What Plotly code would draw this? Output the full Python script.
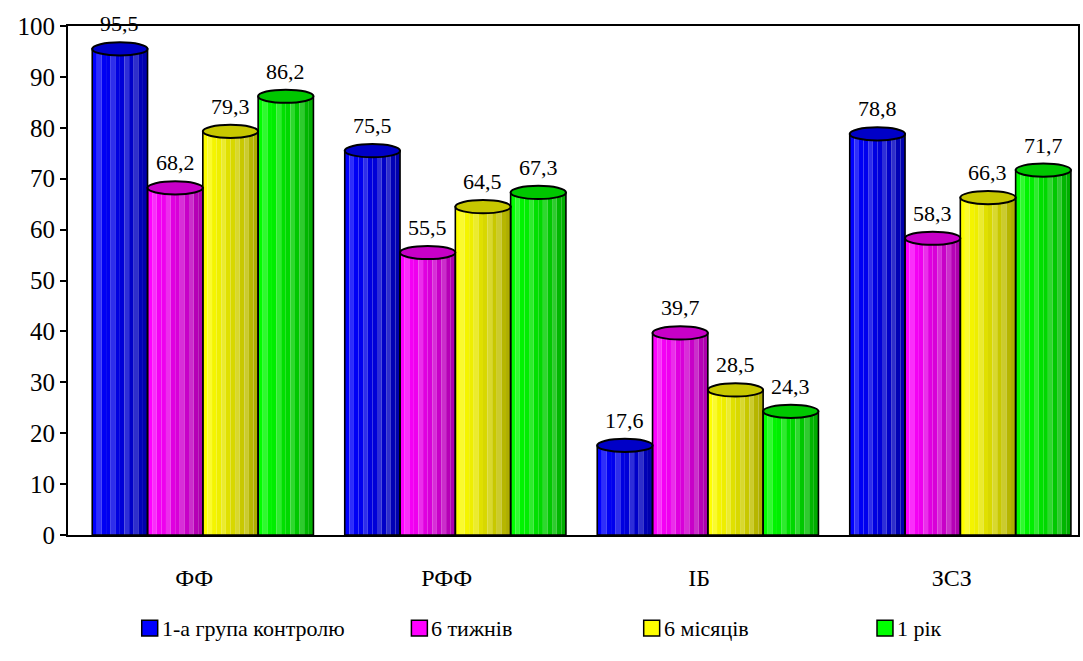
import plotly.graph_objects as go

# Indicator categories and group values (%)
categories = ["ФФ", "РФФ", "ІБ", "ЗСЗ"]
series_names = ["1-а група контролю", "6 тижнів", "6 місяців", "1 рік"]
control_vals = [95.5, 75.5, 17.6, 78.8]
weeks6_vals = [68.2, 55.5, 39.7, 58.3]
months6_vals = [79.3, 64.5, 28.5, 66.3]
year1_vals = [86.2, 67.3, 24.3, 71.7]
y_ticks = [0, 10, 20, 30, 40, 50, 60, 70, 80, 90, 100]

series_vals = [control_vals, weeks6_vals, months6_vals, year1_vals]
base_rgb = [(0, 0, 255), (255, 0, 255), (255, 255, 0), (0, 255, 0)]

FONT = "Liberation Serif, Tinos, serif"
BAR_W = 0.219          # width of one cylinder, in category units
GROUP_START = -0.404   # left edge of the first cylinder relative to category
N_SLICES = 12          # vertical slices used to shade each cylinder
ELL_H = 1.3            # half height of the cap ellipse, in value units


def shade(rgb, f):
    return "rgb({},{},{})".format(*[int(round(c * f)) for c in rgb])


def lighten(rgb, f, a):
    r = [c * f for c in rgb]
    return "rgb({},{},{})".format(*[int(round(c + (255 - c) * a)) for c in r])


# flatten the series so each slice is one trace covering every cylinder
xs, ys, lefts, rgbs = [], [], [], []
for k, vals in enumerate(series_vals):
    for cat, v in zip(categories, vals):
        xs.append(cat)
        ys.append(v)
        lefts.append(GROUP_START + k * BAR_W)
        rgbs.append(base_rgb[k])

fig = go.Figure()
sw = BAR_W / N_SLICES
for j in range(N_SLICES):
    t = (j + 0.5) / N_SLICES
    f = 1.0 - 0.34 * t ** 1.3
    if j in (1, 4, 7, 9):
        cols = [lighten(c, f, 0.18) for c in rgbs]
    else:
        cols = [shade(c, f) for c in rgbs]
    fig.add_trace(go.Bar(
        x=xs, y=ys, width=sw, offset=[l + j * sw for l in lefts],
        marker=dict(color=cols, line=dict(width=0)),
        showlegend=False, hoverinfo="skip",
    ))
# black outline of each cylinder body
fig.add_trace(go.Bar(
    x=xs, y=ys, width=BAR_W, offset=lefts,
    marker=dict(color="rgba(0,0,0,0)", line=dict(color="black", width=1.6)),
    showlegend=False,
))

shapes = []
annotations = []
for k, vals in enumerate(series_vals):
    left = GROUP_START + k * BAR_W
    top_col = shade(base_rgb[k], 0.78)
    for i, v in enumerate(vals):
        x0 = i + left
        x1 = x0 + BAR_W
        # elliptical cap
        shapes.append(dict(
            type="circle", xref="x", yref="y", layer="above",
            x0=x0, x1=x1, y0=v - ELL_H, y1=v + ELL_H,
            fillcolor=top_col, line=dict(color="black", width=2),
        ))
        annotations.append(dict(
            x=(x0 + x1) / 2, y=v, xref="x", yref="y",
            text=f"{v:.1f}".replace(".", ","), showarrow=False,
            yshift=25, font=dict(family=FONT, size=22, color="black"),
        ))

# legend drawn below the plot
legend_x = [0.073, 0.340, 0.570, 0.801]
legend_y = -0.183
sq_w, sq_h = 0.0158, 0.031
for k, name in enumerate(series_names):
    lx = legend_x[k]
    shapes.append(dict(
        type="rect", xref="paper", yref="paper",
        x0=lx, x1=lx + sq_w, y0=legend_y - sq_h / 2, y1=legend_y + sq_h / 2,
        fillcolor=shade(base_rgb[k], 1.0), line=dict(color="black", width=1.5),
    ))
    annotations.append(dict(
        x=lx + sq_w + 0.002, y=legend_y, xref="paper", yref="paper",
        xanchor="left", yanchor="middle", text=name, showarrow=False,
        font=dict(family=FONT, size=22, color="black"),
    ))

fig.update_layout(
    template="none",
    width=1083, height=661,
    margin=dict(l=68, r=5, t=26, b=126),
    paper_bgcolor="white", plot_bgcolor="white",
    barmode="overlay",
    showlegend=False,
    shapes=shapes,
    annotations=annotations,
    font=dict(family=FONT, color="black"),
    xaxis=dict(
        type="category", categoryarray=categories, range=[-0.5, 3.5],
        showline=True, linecolor="black", linewidth=2, mirror=True,
        ticks="", showgrid=False, zeroline=False,
        tickfont=dict(family=FONT, size=24, color="black"),
        ticklabelstandoff=20,
    ),
    yaxis=dict(
        range=[0, 100], tickvals=y_ticks,
        showline=True, linecolor="black", linewidth=2, mirror=True,
        ticks="outside", ticklen=6, tickwidth=2, tickcolor="black",
        showgrid=False, zeroline=False,
        tickfont=dict(family=FONT, size=25, color="black"),
    ),
)

fig.write_html("out.html")
